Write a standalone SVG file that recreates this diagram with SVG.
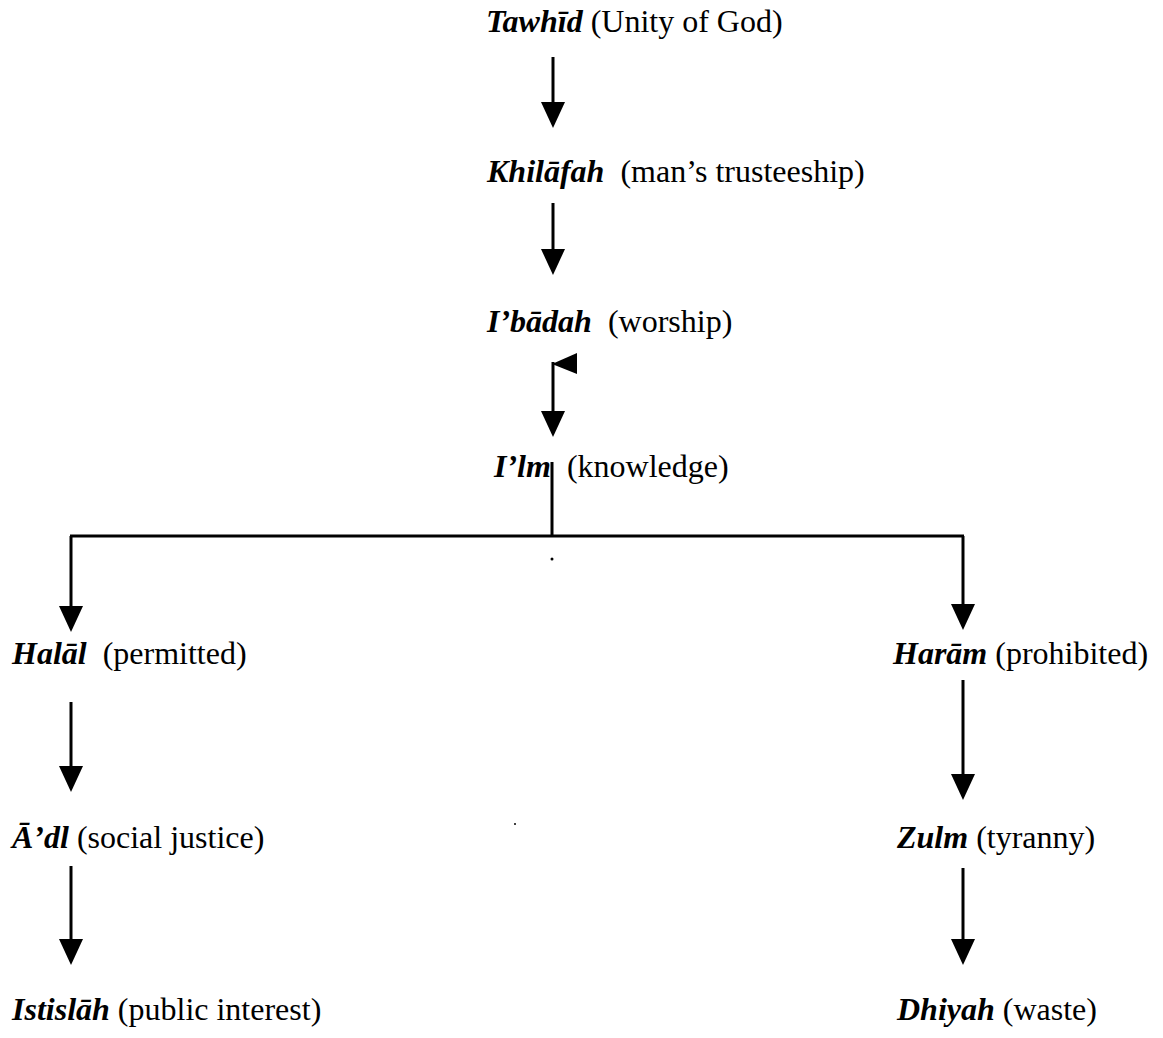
<svg xmlns="http://www.w3.org/2000/svg" width="1163" height="1038" viewBox="0 0 1163 1038">
<style>
text{font-family:"Liberation Serif","Times New Roman",serif;font-size:32px;fill:#000;white-space:pre}
.t{font-weight:bold;font-style:italic}
.c{stroke:#000;stroke-width:3;fill:none}
</style>
<defs>
<marker id="ah" markerUnits="userSpaceOnUse" markerWidth="26" markerHeight="24" refX="16" refY="12" orient="auto" overflow="visible">
<path d="M0,0 L26,12 L0,24 z" fill="#000"/>
</marker>
</defs>
<rect width="1163" height="1038" fill="#fff"/>
<g id="connectors">
<line class="c" x1="553" y1="57" x2="553" y2="118" marker-end="url(#ah)"/>
<line class="c" x1="553" y1="203" x2="553" y2="265" marker-end="url(#ah)"/>
<line class="c" x1="553" y1="362" x2="553" y2="427" marker-end="url(#ah)"/>
<polygon points="552,364 577,353 577,374" fill="#000"/>
<polyline class="c" points="552,462 552,536"/>
<line class="c" x1="70" y1="536" x2="964" y2="536"/>
<line class="c" x1="71" y1="536" x2="71" y2="622" marker-end="url(#ah)"/>
<line class="c" x1="963" y1="536" x2="963" y2="620" marker-end="url(#ah)"/>
<line class="c" x1="71" y1="702" x2="71" y2="782" marker-end="url(#ah)"/>
<line class="c" x1="71" y1="866" x2="71" y2="955" marker-end="url(#ah)"/>
<line class="c" x1="963" y1="680" x2="963" y2="790" marker-end="url(#ah)"/>
<line class="c" x1="963" y1="868" x2="963" y2="955" marker-end="url(#ah)"/>
<circle cx="552" cy="559" r="1.5" fill="#000"/>
<circle cx="515" cy="824" r="1" fill="#000"/>
</g>
<g id="tawhid"><text x="486" y="32"><tspan class="t">Tawhīd</tspan> (Unity of God)</text></g>
<g id="khilafah"><text x="487" y="182"><tspan class="t">Khilāfah</tspan>  (man’s trusteeship)</text></g>
<g id="ibadah"><text x="487" y="332"><tspan class="t">I’bādah</tspan>  (worship)</text></g>
<g id="ilm"><text x="494" y="477"><tspan class="t">I’lm</tspan>  (knowledge)</text></g>
<g id="halal"><text x="12" y="664"><tspan class="t">Halāl</tspan>  (permitted)</text></g>
<g id="haram"><text x="893" y="664"><tspan class="t">Harām</tspan> (prohibited)</text></g>
<g id="adl"><text x="12" y="848"><tspan class="t">Ā’dl</tspan> (social justice)</text></g>
<g id="zulm"><text x="897" y="848"><tspan class="t">Zulm</tspan> (tyranny)</text></g>
<g id="istislah"><text x="12" y="1020"><tspan class="t">Istislāh</tspan> (public interest)</text></g>
<g id="dhiyah"><text x="897" y="1020"><tspan class="t">Dhiyah</tspan> (waste)</text></g>
</svg>
